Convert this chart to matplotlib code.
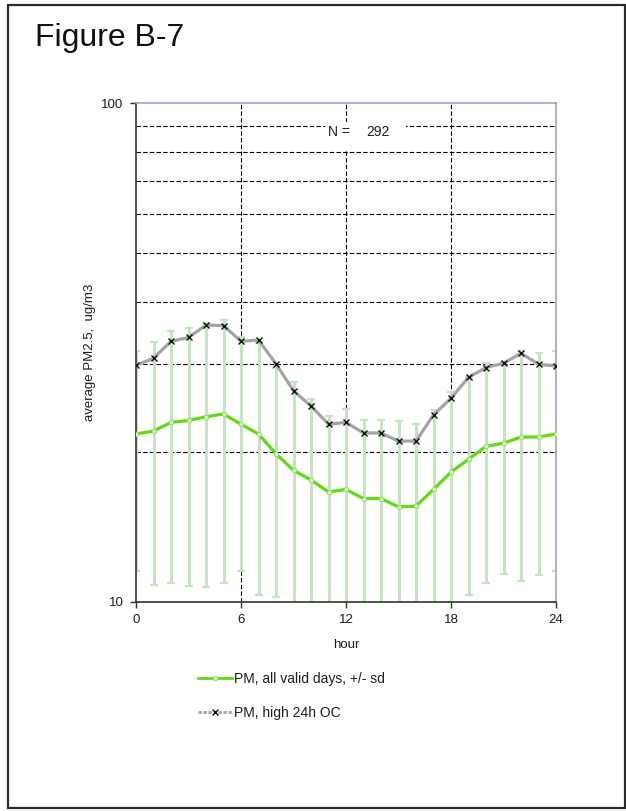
#!/usr/bin/env python3
"""Diurnal PM2.5 profile: all valid days (+/- sd) vs. days with high 24h OC."""
import matplotlib
matplotlib.use("Agg")
import matplotlib.pyplot as plt
from matplotlib.patches import Rectangle
from matplotlib.lines import Line2D
from matplotlib.ticker import FixedLocator, NullFormatter

plt.rcParams["font.family"] = ["Liberation Sans", "DejaVu Sans"]

# ── Data ─────────────────────────────────────────────────────────────────────
hours = list(range(25))
pm_all = [21.7, 22.0, 22.9, 23.1, 23.5, 23.8, 22.7, 21.7, 19.8, 18.35, 17.55,
          16.6, 16.8, 16.1, 16.1, 15.5, 15.55, 16.8, 18.2, 19.3, 20.5, 20.8,
          21.4, 21.4, 21.7]
pm_all_sd = [10.2, 11.2, 12.0, 12.35, 12.8, 12.9, 11.2, 11.4, 9.6, 9.25, 7.95,
             7.0, 7.6, 7.1, 7.0, 7.5, 7.2, 7.5, 8.2, 9.0, 9.6, 9.45, 10.4,
             10.1, 10.2]
pm_high_oc = [29.8, 30.8, 33.3, 33.9, 35.9, 35.8, 33.3, 33.5, 30.0, 26.5, 24.7,
              22.7, 22.9, 21.8, 21.8, 21.0, 21.0, 23.7, 25.6, 28.2, 29.5, 30.1,
              31.5, 29.95, 29.7]
n_days = 292

x_ticks = [0, 6, 12, 18, 24]
x_grid = [6, 12, 18]
y_grid = [20, 30, 40, 50, 60, 70, 80, 90]

GREEN = "#5fdc14"
SD_GREEN = "#c6e4c3"
GREY = "#a4a4a4"
TEXT = "#1e1e1e"

fig = plt.figure(figsize=(6.26, 8.11), dpi=100)

# page frame
fig.patches.append(Rectangle((8 / 626, 3 / 811), 617 / 626, 803 / 811,
                             transform=fig.transFigure, fill=False,
                             edgecolor="#2a2a2a", linewidth=1.6))
fig.text(35 / 626, 1 - 38 / 811, "Figure B-7", fontsize=23, color="#111111",
         va="center", ha="left")

ax = fig.add_axes([136 / 626, 1 - 601.7 / 811, 420 / 626, 498.4 / 811])
ax.set_yscale("log")
ax.set_xlim(0, 24)
ax.set_ylim(10, 100)

# dashed grid
for yv in y_grid:
    ax.axhline(yv, color="black", linewidth=0.8, linestyle=(0, (4, 2)), zorder=1)
for xv in x_grid:
    ax.axvline(xv, color="black", linewidth=0.8, linestyle=(0, (4, 2)), zorder=1)

# N label box
ax.add_patch(Rectangle((10.8, 80.2), 4.63, 91.7 - 80.2, facecolor="white",
                       edgecolor="none", zorder=1.5))
ax.text(10.97, 87.5, "N =", fontsize=10, color=TEXT, va="center", ha="left",
        zorder=2)
ax.text(13.14, 87.5, str(n_days), fontsize=10, color=TEXT, va="center",
        ha="left", zorder=2)

ax.errorbar(hours, pm_all, yerr=pm_all_sd, fmt="none", ecolor=SD_GREEN,
            elinewidth=2.2, capsize=2.6, capthick=1.6, zorder=2, clip_on=True)
ax.plot(hours, pm_all, color=GREEN, linewidth=2.3, marker="o", markersize=3.2,
        markerfacecolor="#d6f5c4", markeredgecolor="#9ad87a",
        markeredgewidth=0.7, zorder=3)
ax.plot(hours, pm_high_oc, color=GREY, linewidth=2.3, zorder=3)
ax.plot(hours, pm_high_oc, linestyle="none", marker="x", markersize=4.2,
        markeredgecolor="#111111", markeredgewidth=1.0, zorder=4)

# axes styling
ax.xaxis.set_major_locator(FixedLocator(x_ticks))
ax.set_xticklabels([str(t) for t in x_ticks])
ax.yaxis.set_major_locator(FixedLocator([10, 100]))
ax.yaxis.set_minor_locator(FixedLocator(y_grid))
ax.yaxis.set_minor_formatter(NullFormatter())
ax.set_yticklabels(["10", "100"])
ax.tick_params(which="major", direction="out", length=4, width=1.0,
               color="#333333", labelsize=9.5, labelcolor=TEXT, pad=5)
ax.tick_params(which="minor", length=0)
for side in ("left", "bottom"):
    ax.spines[side].set_color("#333333")
    ax.spines[side].set_linewidth(1.2)
for side in ("top", "right"):
    ax.spines[side].set_color("#a4a4bc")
    ax.spines[side].set_linewidth(1.2)

ax.set_xlabel("hour", fontsize=9.5, color=TEXT, labelpad=9)
ax.set_ylabel("average PM2.5,  ug/m3", fontsize=9.5, color=TEXT, labelpad=4)

handles = [
    Line2D([], [], color=GREEN, linewidth=2.0, marker="o", markersize=3.2,
           markerfacecolor="#d6f5c4", markeredgecolor="#9ad87a",
           markeredgewidth=0.7),
    Line2D([], [], color=GREY, linewidth=2.0, linestyle=(0, (1.2, 0.6)),
           marker="x", markersize=4, markeredgecolor="#111111",
           markeredgewidth=1.0),
]
labels = ["PM, all valid days, +/- sd", "PM, high 24h OC"]
fig.legend(handles, labels, loc="upper left",
           bbox_to_anchor=(186 / 626, 1 - 659 / 811), frameon=False,
           fontsize=10, handlelength=2.4, handletextpad=0.15, labelspacing=1.45,
           labelcolor=TEXT)

fig.savefig("out.png", dpi=100)
